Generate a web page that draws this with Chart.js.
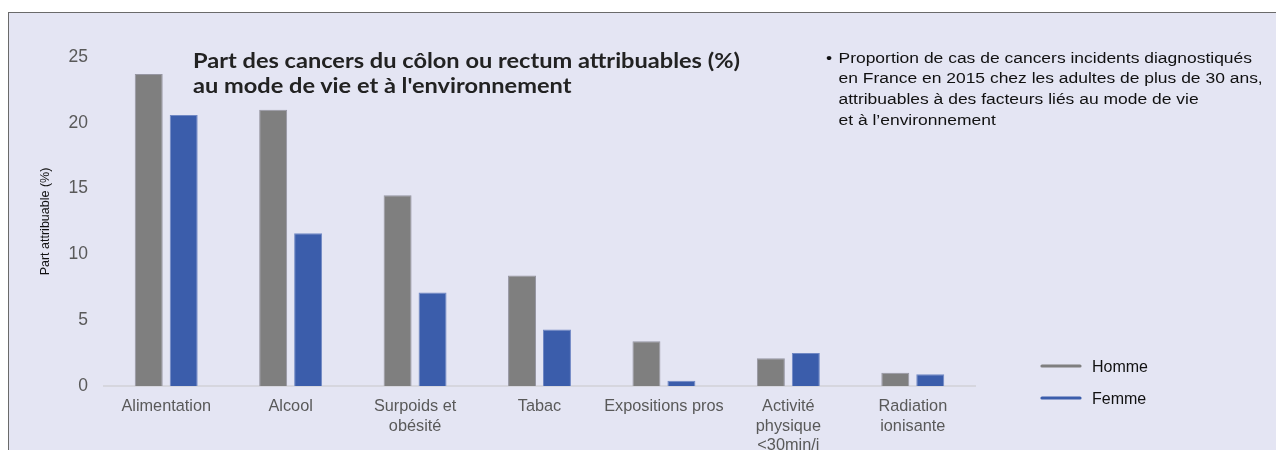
<!DOCTYPE html>
<html><head><meta charset="utf-8">
<script src="https://cdn.jsdelivr.net/npm/chart.js@4"></script>
<style>
html,body{margin:0;padding:0;background:#fff;width:1276px;height:450px;overflow:hidden}
#frame{position:absolute;left:8px;top:12px;width:1268px;height:438px;background:#E4E5F3;border-left:1px solid #6a6a6a;border-top:1px solid #6a6a6a;box-sizing:border-box}
#wrap{position:absolute;left:0;top:0;width:1276px;height:450px}
#title{position:absolute;left:193px;top:48px;font:700 20px Lato, "Open Sans", sans-serif;line-height:25px;color:#222;white-space:nowrap;transform-origin:0 0}
#note{position:absolute;left:826px;top:47.5px;font:15.4px "Liberation Sans", Arial, sans-serif;line-height:20.7px;color:#111;white-space:nowrap;transform-origin:0 0}
#note .b{display:inline-block;width:11px}
#note .i{padding-left:11px}
</style></head>
<body>
<div id="frame"></div>
<div id="wrap"><canvas id="c" width="1276" height="450"></canvas></div>
<div id="title"><span id="t1">Part des cancers du côlon ou rectum attribuables (%)</span><br>au mode de vie et à l'environnement</div>
<div id="note"><span id="n1"><span class="b">•</span>Proportion de cas de cancers incidents diagnostiqués</span><br><span class="i">en France en 2015 chez les adultes de plus de 30 ans,</span><br><span class="i">attribuables à des facteurs liés au mode de vie</span><br><span class="i">et à l’environnement</span></div>
<script>
const categories = [["Alimentation"],["Alcool"],["Surpoids et","obésité"],["Tabac"],["Expositions pros"],["Activité","physique","<30min/j"],["Radiation","ionisante"]];
const seriesNames = ["Homme","Femme"];
const homme = [23.7, 21.0, 14.5, 8.4, 3.4, 2.1, 1.0];
const femme = [20.6, 11.6, 7.1, 4.3, 0.4, 2.5, 0.9];
const yTicks = [0,5,10,15,20,25];
const yTitle = "Part attribuable (%)";

const colors = ["#7F7F7F","#3B5DAB"];
const borders = ["#9696a2","#7088c4"];

// fit text widths (layout only)
function fitWidth(el, target){ const w = el.getBoundingClientRect().width; return target / w; }
document.fonts.ready.then(()=>{
  const s1 = fitWidth(document.getElementById('t1'), 547);
  document.getElementById('title').style.transform = 'scaleX(' + s1 + ')';
  const s2 = fitWidth(document.getElementById('n1'), 426);
  document.getElementById('note').style.transform = 'scaleX(' + s2 + ')';
});

const legendPlugin = {
  id:'customLegend',
  afterDraw(chart){
    const ctx = chart.ctx;
    chart.data.datasets.forEach((ds,i)=>{
      const y = 366 + i*32;
      ctx.save();
      ctx.strokeStyle = ds.backgroundColor; ctx.lineWidth = 3.2; ctx.lineCap = 'round';
      ctx.beginPath(); ctx.moveTo(1042,y); ctx.lineTo(1080,y); ctx.stroke();
      ctx.fillStyle = '#111'; ctx.font = '16px "Liberation Sans", Arial'; ctx.textBaseline = 'middle'; ctx.textAlign='left';
      ctx.fillText(ds.label, 1092, y+1.5);
      ctx.restore();
    });
  }
};

new Chart(document.getElementById('c'), {
  type:'bar',
  data:{
    labels: categories,
    datasets:[
      {label:seriesNames[0], data:homme, backgroundColor:colors[0], borderColor:borders[0], borderWidth:1, categoryPercentage:0.562, barPercentage:0.8},
      {label:seriesNames[1], data:femme, backgroundColor:colors[1], borderColor:borders[1], borderWidth:1, categoryPercentage:0.562, barPercentage:0.8}
    ]
  },
  options:{
    responsive:false, animation:false, maintainAspectRatio:false,
    layout:{padding:{left:38, top:57, right:301, bottom:0}},
    plugins:{legend:{display:false}, title:{display:false}, tooltip:{enabled:false}},
    scales:{
      x:{
        grid:{display:true, drawOnChartArea:false, drawTicks:false, tickLength:0},
        border:{display:true, color:'#D6D6DE', width:2},
        ticks:{color:'#595959', font:{family:'"Liberation Sans", Arial', size:16.3, lineHeight:1.2}, padding:11, maxRotation:0, autoSkip:false},
        afterFit(s){ s.height = 64; }
      },
      y:{
        min:0, max:25,
        afterBuildTicks(s){ s.ticks = yTicks.map(v=>({value:v})); },
        grid:{display:false, drawTicks:false, tickLength:0},
        border:{display:false},
        ticks:{color:'#595959', font:{family:'"Liberation Sans", Arial', size:17.5}, padding:16},
        title:{display:true, text:yTitle, color:'#111', font:{family:'"Liberation Sans", Arial', size:12.5}, padding:{top:0,bottom:0}},
        afterFit(s){ s.width = 66; }
      }
    }
  },
  plugins:[legendPlugin]
});
</script>
</body></html>
